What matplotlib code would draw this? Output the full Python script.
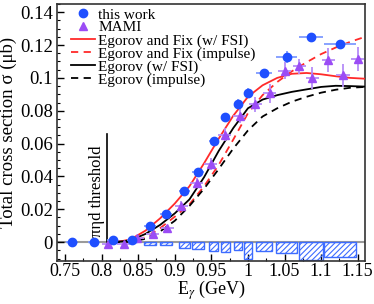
import matplotlib
matplotlib.use("Agg")
import matplotlib.pyplot as plt
from matplotlib.lines import Line2D

# ---- data ----
this_E = [0.759, 0.789, 0.815, 0.842, 0.866, 0.888, 0.913, 0.932, 0.953, 0.969,
          0.986, 1.000, 1.022, 1.053, 1.086, 1.126]
this_sigma = [0.0, 0.0, 0.001, 0.0014, 0.0098, 0.0169, 0.0314, 0.0429, 0.0614, 0.076,
              0.0844, 0.091, 0.1027, 0.1128, 0.1247, 0.1207]
this_dE = [0.008, 0.008, 0.007, 0.007, 0.0085, 0.0085, 0.0075, 0.0085, 0.006, 0.0065,
           0.0055, 0.006, 0.0105, 0.0145, 0.016, 0.022]
this_dsigma = [0.0005, 0.0005, 0.0008, 0.0008, 0.001, 0.0012, 0.0015, 0.0018, 0.002, 0.0025,
               0.0025, 0.003, 0.003, 0.0035, 0.0028, 0.0025]
this_sys = [0.0, 0.0, 0.0, 0.0, 0.0016, 0.0016, 0.0036, 0.0042, 0.0056, 0.006,
            0.005, 0.0103, 0.0056, 0.0066, 0.0107, 0.0092]

mami_E = [0.809, 0.830, 0.849, 0.870, 0.890, 0.909, 0.930, 0.949, 0.968, 0.989,
          1.010, 1.030, 1.050, 1.070, 1.088, 1.110, 1.130, 1.150]
mami_sigma = [-0.001, -0.001, 0.0025, 0.0048, 0.0087, 0.022, 0.0363, 0.0477, 0.0655, 0.0769,
              0.084, 0.0905, 0.1045, 0.107, 0.100, 0.111, 0.1015, 0.1116]
mami_dsigma = [0.001, 0.001, 0.0015, 0.002, 0.002, 0.003, 0.003, 0.0035, 0.004, 0.0045,
               0.0045, 0.0055, 0.005, 0.0045, 0.0065, 0.0075, 0.007, 0.0075]
mami_dE = [0.009] * len(mami_E)

curve_E = [0.815, 0.83, 0.84, 0.86, 0.88, 0.90, 0.92, 0.94, 0.96, 0.98,
           1.00, 1.02, 1.04, 1.06, 1.08, 1.10, 1.12, 1.14, 1.16]
fix_fsi = [0.0, 0.0008, 0.0018, 0.007, 0.0145, 0.0235, 0.034, 0.048, 0.063, 0.077,
           0.0885, 0.0955, 0.100, 0.1025, 0.103, 0.1022, 0.101, 0.100, 0.0995]
fix_imp = [0.0, 0.0, 0.0003, 0.003, 0.0085, 0.0155, 0.023, 0.034, 0.047, 0.0625,
           0.0785, 0.0895, 0.0975, 0.104, 0.1095, 0.1145, 0.1185, 0.122, 0.125]
egorov_fsi = [0.0, 0.0005, 0.0012, 0.005, 0.0105, 0.0175, 0.026, 0.0395, 0.0555, 0.0695,
              0.0815, 0.0868, 0.0895, 0.0915, 0.093, 0.0945, 0.0952, 0.095, 0.0947]
egorov_imp = [0.0, 0.0, 0.0003, 0.002, 0.0065, 0.013, 0.022, 0.0325, 0.0445, 0.057,
              0.068, 0.0765, 0.0815, 0.0855, 0.0885, 0.091, 0.0928, 0.094, 0.0945]

threshold_E = 0.808

# ---- style ----
plt.rcParams['font.family'] = ['Liberation Serif', 'DejaVu Serif']
plt.rcParams['mathtext.fontset'] = 'stix'
plt.rcParams['hatch.linewidth'] = 0.8

blue = '#1f4fff'
blue_err = '#7f9bff'
purple = '#9b4cf5'
purple_err = '#b58cf8'

fig = plt.figure(figsize=(3.74, 3.04), dpi=100)
ax = fig.add_axes([57 / 374, 43 / 304, 308 / 374, 257 / 304])

ax.axhline(0, color='#9a9a9a', lw=1.5, zorder=1)

# systematic bars
widths = [2 * d for d in this_dE]
ax.bar(this_E, [-s for s in this_sys], width=widths, bottom=0, fill=False,
       edgecolor='#3d6cff', hatch='//////', lw=1.0, zorder=2)

# theory curves
ax.plot(curve_E, fix_fsi, color='#ff2a2a', lw=1.3, zorder=3)
ax.plot(curve_E, fix_imp, color='#ff2a2a', lw=1.3, ls=(0, (4, 3)), zorder=3)
ax.plot(curve_E, egorov_fsi, color='black', lw=1.3, zorder=3)
ax.plot(curve_E, egorov_imp, color='black', lw=1.3, ls=(0, (4, 3)), zorder=3)

# MAMI
eb = ax.errorbar(mami_E, mami_sigma, xerr=mami_dE, yerr=mami_dsigma, fmt='^',
                 color=purple, ms=5.8, ecolor=purple_err, elinewidth=1.3, capsize=0, zorder=4)
eb[2][0].set_linestyle((0, (3, 2)))

# this work
ax.errorbar(this_E, this_sigma, xerr=this_dE, yerr=this_dsigma, fmt='o',
            color=blue, ms=6.0, ecolor=blue_err, elinewidth=1.3, capsize=0, zorder=5)

# threshold
ax.plot([threshold_E, threshold_E], [0, 0.066], color='black', lw=1.2, zorder=3)
ax.text(threshold_E - 0.003, 0.003, 'πηd threshold', rotation=90, ha='right', va='bottom',
        fontsize=12)

ax.set_xlim(0.739, 1.160)
ax.set_ylim(-0.0115, 0.145)
ax.set_xticks([0.75, 0.8, 0.85, 0.9, 0.95, 1.0, 1.05, 1.1, 1.15])
ax.set_xticklabels(['0.75', '0.8', '0.85', '0.9', '0.95', '1', '1.05', '1.1', '1.15'])
ax.set_xticks([0.775 + 0.05 * i for i in range(8)], minor=True)
ax.set_yticks([0, 0.02, 0.04, 0.06, 0.08, 0.1, 0.12, 0.14])
ax.set_yticklabels(['0', '0.02', '0.04', '0.06', '0.08', '0.1', '0.12', '0.14'])
ax.set_yticks([-0.01 + 0.005 * i for i in range(32)], minor=True)
ax.tick_params(which='both', direction='in', labelsize=13.5, pad=3)
ax.tick_params(axis='x', labelsize=13, pad=1.5)
ax.tick_params(which='major', length=5, width=1)
ax.tick_params(which='minor', length=2.5, width=0.8)
for s in ax.spines.values():
    s.set_linewidth(1.2)
    s.set_color('#333333')

ax.set_xlabel(r'E$_\gamma$ (GeV)', fontsize=13, labelpad=-1)
ax.set_ylabel('Total cross section σ (μb)', fontsize=13.5, labelpad=2)

handles = [
    Line2D([], [], marker='o', ls='none', color=blue, ms=6.0),
    Line2D([], [], marker='^', ls='none', color=purple, ms=5.8),
    Line2D([], [], color='#ff2a2a', lw=1.3),
    Line2D([], [], color='#ff2a2a', lw=1.3, ls=(0, (4, 3))),
    Line2D([], [], color='black', lw=1.3),
    Line2D([], [], color='black', lw=1.3, ls=(0, (4, 3))),
]
labels = ['this work', 'MAMI', 'Egorov and Fix (w/ FSI)', 'Egorov and Fix (impulse)',
          'Egorov (w/ FSI)', 'Egorov (impulse)']
ax.legend(handles, labels, loc='upper left', bbox_to_anchor=(0.045, 0.985), frameon=False,
          fontsize=11, handlelength=1.6, handletextpad=0.2, labelspacing=-0.05,
          borderpad=0, borderaxespad=0)

fig.savefig('out.png', dpi=100)
